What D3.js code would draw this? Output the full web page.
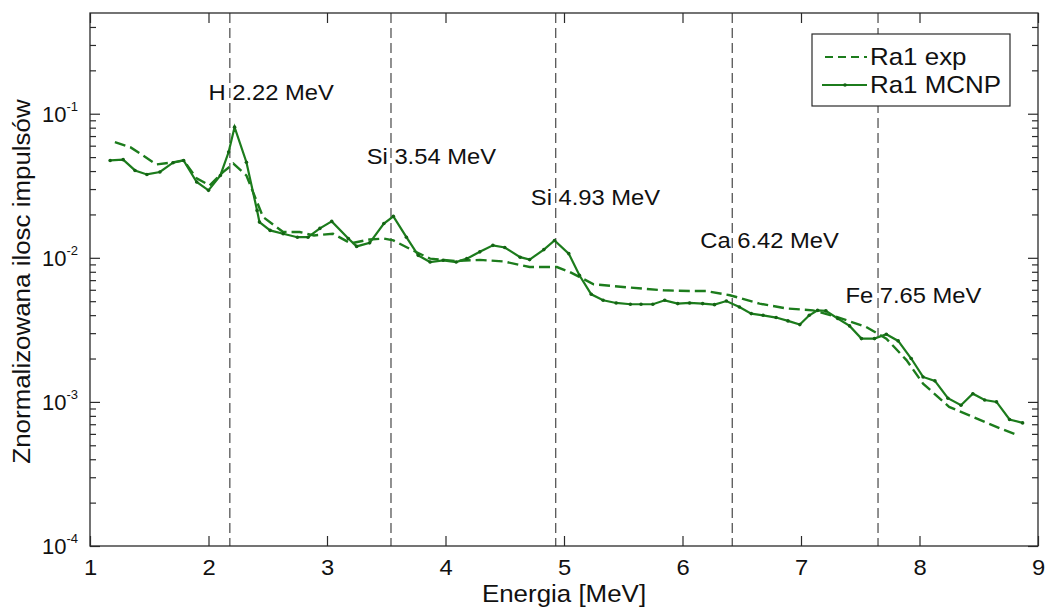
<!DOCTYPE html>
<html>
<head>
<meta charset="utf-8">
<script src="https://cdn.jsdelivr.net/npm/d3@7/dist/d3.min.js"></script>
<style>
  body { margin: 0; background: #fff; }
  text { font-family: "Liberation Sans", Arial, Helvetica, sans-serif; fill: #111; }
</style>
</head>
<body>
<div id="chart"></div>
<script>
// MCNP simulation (solid, with markers)
var energyMcnp = [1.17, 1.28, 1.38, 1.48, 1.59, 1.70, 1.79, 1.90, 2.00, 2.10,
                  2.17, 2.22, 2.32, 2.41, 2.43, 2.52, 2.63, 2.75, 2.84, 2.94,
                  3.04, 3.18, 3.25, 3.36, 3.48, 3.56, 3.67, 3.77, 3.87, 3.98,
                  4.09, 4.18, 4.29, 4.40, 4.50, 4.63, 4.71, 4.83, 4.92, 5.04,
                  5.13, 5.23, 5.33, 5.44, 5.56, 5.65, 5.75, 5.85, 5.96, 6.06,
                  6.17, 6.27, 6.37, 6.48, 6.58, 6.68, 6.79, 6.89, 6.99, 7.07,
                  7.14, 7.21, 7.31, 7.41, 7.51, 7.62, 7.72, 7.82, 7.93, 8.03,
                  8.13, 8.24, 8.35, 8.45, 8.55, 8.65, 8.76, 8.87];
var countsMcnp = [0.0474, 0.0480, 0.0404, 0.0379, 0.0394, 0.0457, 0.0474, 0.0336, 0.0294, 0.0373,
                  0.0542, 0.0807, 0.0461, 0.0213, 0.0177, 0.0155, 0.0147, 0.0139, 0.0139, 0.0160,
                  0.0179, 0.0136, 0.0120, 0.0127, 0.0173, 0.0194, 0.0139, 0.0104, 0.00935, 0.00961,
                  0.00935, 0.00987, 0.0110, 0.0122, 0.0118, 0.0101, 0.00972, 0.0114, 0.0132, 0.0107,
                  0.00756, 0.00558, 0.00507, 0.00486, 0.00476, 0.00476, 0.00476, 0.00507, 0.00481, 0.00486,
                  0.00481, 0.00473, 0.00501, 0.00456, 0.00410, 0.00399, 0.00385, 0.00365, 0.00344, 0.00399,
                  0.00432, 0.00428, 0.00379, 0.00337, 0.00275, 0.00275, 0.00295, 0.00265, 0.00200, 0.00149,
                  0.00140, 0.00106, 0.000949, 0.00114, 0.00103, 0.00100, 0.000755, 0.000715];

// measured spectrum (dashed)
var energyExp = [1.21, 1.34, 1.56, 1.70, 1.79, 1.90, 2.01, 2.12, 2.21, 2.32,
                 2.46, 2.63, 2.77, 2.89, 3.05, 3.20, 3.36, 3.48, 3.56, 3.73,
                 3.87, 4.09, 4.29, 4.49, 4.71, 4.94, 5.05, 5.25, 5.56, 5.84,
                 6.06, 6.20, 6.40, 6.65, 6.88, 7.10, 7.30, 7.55, 7.72, 7.89,
                 8.03, 8.25, 8.45, 8.68, 8.83];
var countsExp = [0.0635, 0.0586, 0.0445, 0.0460, 0.0474, 0.0356, 0.0318, 0.0392, 0.0450, 0.0373,
                 0.0192, 0.0151, 0.0151, 0.0143, 0.0147, 0.0126, 0.0134, 0.0136, 0.0132, 0.0112,
                 0.00987, 0.00951, 0.00967, 0.00944, 0.00863, 0.00863, 0.00797, 0.00655, 0.00621, 0.00595,
                 0.00588, 0.00588, 0.00550, 0.00481, 0.00445, 0.00432, 0.00389, 0.00331, 0.00275, 0.00195,
                 0.00134, 0.000923, 0.000787, 0.000654, 0.000588];

var xTicks = [1, 2, 3, 4, 5, 6, 7, 8, 9];
var yTicks = [1e-4, 1e-3, 1e-2, 1e-1];
var yTickExponents = ["-4", "-3", "-2", "-1"];

// gamma lines
var lineEnergies = [2.18, 3.54, 4.93, 6.42, 7.65];
var lineLabels = ["H 2.22 MeV", "Si 3.54 MeV", "Si 4.93 MeV", "Ca 6.42 MeV", "Fe 7.65 MeV"];
var labelEnergy = [2.0, 3.335, 4.72, 6.15, 7.375];
var labelCounts = [0.124, 0.0447, 0.0232, 0.01167, 0.00485];

var seriesNames = ["Ra1 exp", "Ra1 MCNP"];

var width = 1047,
    height = 610,
    margin = {top: 13, right: 9, bottom: 64, left: 90},
    innerW = width - margin.left - margin.right,
    innerH = height - margin.top - margin.bottom,
    green = "#1c7c1c",
    axisColor = "#2a2a2a",
    stretch = 1.08; // text in the original is a bit wider than Arial

var x = d3.scaleLinear().domain([1, 9]).range([0, innerW]);
var y = d3.scaleLog().domain([1e-4, 0.5]).range([innerH, 0]);

// minor log ticks 2..9 in every decade
var minorTicks = [];
yTicks.forEach(function(d){
    for (var k = 2; k <= 9; k++) {
        if (k * d < 0.5) minorTicks.push(k * d);
    }
});

var svg = d3.select("#chart").append("svg")
    .attr("width", width)
    .attr("height", height);

var g = svg.append("g")
    .attr("transform", "translate(" + margin.left + "," + margin.top + ")");

// vertical dashed lines
g.append("g").selectAll("line")
    .data(lineEnergies)
    .enter().append("line")
    .attr("x1", function(d){ return x(d); })
    .attr("x2", function(d){ return x(d); })
    .attr("y1", 0)
    .attr("y2", innerH)
    .attr("stroke", "#555")
    .attr("stroke-width", 1.3)
    .attr("stroke-dasharray", "10,5");

// line labels
g.append("g").selectAll("text")
    .data(lineLabels)
    .enter().append("text")
    .attr("transform", function(d, i){
        return "translate(" + x(labelEnergy[i]) + "," + y(labelCounts[i]) + ") scale(" + stretch + ",1)";
    })
    .style("font-size", "22px")
    .text(function(d){ return d; });

// series
var line = d3.line()
    .x(function(d){ return x(d[0]); })
    .y(function(d){ return y(d[1]); });

var expData = energyExp.map(function(e, i){ return [e, countsExp[i]]; });
var mcnpData = energyMcnp.map(function(e, i){ return [e, countsMcnp[i]]; });

g.append("path")
    .datum(expData)
    .attr("d", line)
    .attr("fill", "none")
    .attr("stroke", green)
    .attr("stroke-width", 2.4)
    .attr("stroke-dasharray", "11,5");

g.append("path")
    .datum(mcnpData)
    .attr("d", line)
    .attr("fill", "none")
    .attr("stroke", green)
    .attr("stroke-width", 2.2);

g.append("g").selectAll("circle")
    .data(mcnpData)
    .enter().append("circle")
    .attr("cx", function(d){ return x(d[0]); })
    .attr("cy", function(d){ return y(d[1]); })
    .attr("r", 1.8)
    .attr("fill", "#146414");

// axes, ticks pointing inward like matlab
function styleAxis(sel){
    sel.select(".domain").remove();
    sel.selectAll(".tick line").attr("stroke", axisColor).attr("stroke-width", 1.2);
}

var xAxis = g.append("g")
    .attr("transform", "translate(0," + innerH + ")")
    .call(d3.axisBottom(x).tickValues(xTicks).tickSizeInner(-10).tickSizeOuter(0).tickPadding(13)
          .tickFormat(d3.format("d")))
    .call(styleAxis);
xAxis.selectAll("text")
    .attr("transform", "scale(" + stretch + ",1)")
    .style("font-size", "22px")
    .style("font-family", "'Liberation Sans', Arial, sans-serif")
    .attr("fill", "#111");

g.append("g")
    .call(d3.axisTop(x).tickValues(xTicks).tickSizeInner(-10).tickSizeOuter(0).tickFormat(""))
    .call(styleAxis);

g.append("g")
    .call(d3.axisLeft(y).tickValues(yTicks).tickSizeInner(-10).tickSizeOuter(0).tickFormat(""))
    .call(styleAxis);
g.append("g")
    .call(d3.axisLeft(y).tickValues(minorTicks).tickSizeInner(-6).tickSizeOuter(0).tickFormat(""))
    .call(styleAxis);
g.append("g")
    .attr("transform", "translate(" + innerW + ",0)")
    .call(d3.axisRight(y).tickValues(yTicks).tickSizeInner(-10).tickSizeOuter(0).tickFormat(""))
    .call(styleAxis);
g.append("g")
    .attr("transform", "translate(" + innerW + ",0)")
    .call(d3.axisRight(y).tickValues(minorTicks).tickSizeInner(-6).tickSizeOuter(0).tickFormat(""))
    .call(styleAxis);

// y tick labels as 10^n
var yLab = g.append("g").selectAll("text")
    .data(yTicks)
    .enter().append("text")
    .attr("transform", function(d){ return "translate(-12," + (y(d) + 8) + ")"; })
    .attr("text-anchor", "end")
    .style("font-size", "22px");
yLab.append("tspan").text("10");
yLab.append("tspan")
    .attr("dy", -11)
    .style("font-size", "13px")
    .text(function(d, i){ return yTickExponents[i]; });

// frame
g.append("rect")
    .attr("width", innerW)
    .attr("height", innerH)
    .attr("fill", "none")
    .attr("stroke", axisColor)
    .attr("stroke-width", 1.3);

// axis titles
svg.append("text")
    .attr("transform", "translate(" + (margin.left + innerW / 2) + ",602) scale(" + stretch + ",1)")
    .attr("text-anchor", "middle")
    .style("font-size", "24px")
    .text("Energia [MeV]");

svg.append("text")
    .attr("transform", "translate(30," + (margin.top + innerH / 2 + 2) + ") rotate(-90) scale(" + stretch + ",1)")
    .attr("text-anchor", "middle")
    .style("font-size", "24px")
    .text("Znormalizowana ilosc impulsów");

// legend
var legend = svg.append("g").attr("transform", "translate(812,34)");
legend.append("rect")
    .attr("width", 198)
    .attr("height", 72)
    .attr("fill", "#fff")
    .attr("stroke", axisColor)
    .attr("stroke-width", 1.2);

var legItems = legend.selectAll(".item")
    .data(seriesNames)
    .enter().append("g")
    .attr("class", "item")
    .attr("transform", function(d, i){ return "translate(0," + (23 + i * 28) + ")"; });

legItems.append("line")
    .attr("x1", function(d, i){ return i == 0 ? 13 : 10; })
    .attr("x2", 55)
    .attr("stroke", green)
    .attr("stroke-width", 2.2)
    .attr("stroke-dasharray", function(d, i){ return i == 0 ? "8,5" : null; });

legItems.filter(function(d, i){ return i == 1; })
    .append("circle")
    .attr("cx", 33)
    .attr("r", 1.8)
    .attr("fill", "#146414");

legItems.append("text")
    .attr("transform", "translate(58,8) scale(" + stretch + ",1)")
    .style("font-size", "24px")
    .text(function(d){ return d; });
</script>
</body>
</html>
